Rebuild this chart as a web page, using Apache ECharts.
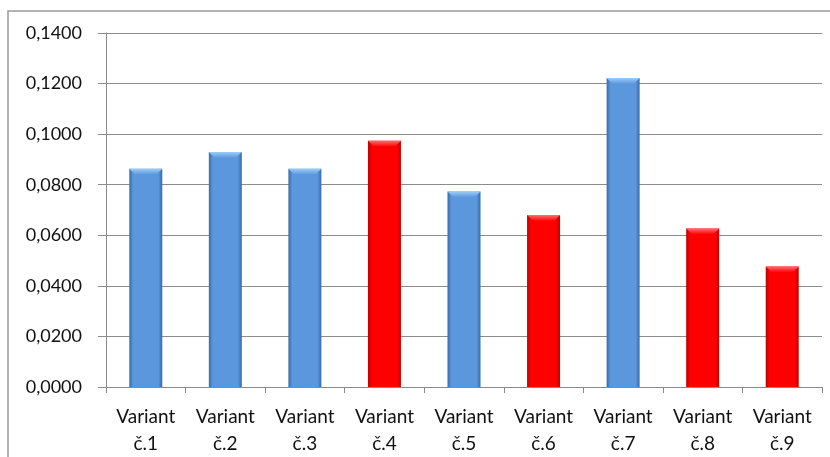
<!DOCTYPE html>
<html>
<head>
<meta charset="utf-8">
<script src="https://cdn.jsdelivr.net/npm/echarts@6/dist/echarts.min.js"></script>
<style>
  html, body { margin: 0; padding: 0; background: #fff; }
  #chart { width: 830px; height: 457px; }
</style>
</head>
<body>
<div id="chart"></div>
<script>
// Variants and their values
const categories = ['Variant\nč.1', 'Variant\nč.2', 'Variant\nč.3', 'Variant\nč.4', 'Variant\nč.5',
                    'Variant\nč.6', 'Variant\nč.7', 'Variant\nč.8', 'Variant\nč.9'];
const values = [0.0863, 0.0929, 0.0863, 0.0974, 0.0773, 0.0680, 0.1222, 0.0627, 0.0477];
// 'b' = blue bar, 'r' = red bar
const kinds = ['b', 'b', 'b', 'r', 'b', 'r', 'b', 'r', 'r'];
const yTicks = { min: 0, max: 0.14, interval: 0.02 };

const palette = {
  b: { edge: '#3a6aa8', mid: '#5b97dd', light: '#9cccf7' },
  r: { edge: '#c00000', mid: '#ff0000', light: '#ff7070' }
};
const BAR_W = 33;
const BEVEL = 6;

function bodyGradient(p) {
  return new echarts.graphic.LinearGradient(0, 0, 1, 0, [
    { offset: 0, color: p.edge },
    { offset: 0.12, color: p.mid },
    { offset: 0.88, color: p.mid },
    { offset: 1, color: p.edge }
  ]);
}

const chart = echarts.init(document.getElementById('chart'));
const font = 'Lato, "Open Sans", sans-serif';

chart.setOption({
  animation: false,
  graphic: [{
    type: 'rect',
    shape: { x: 8, y: 11, width: 900, height: 600 },
    style: { fill: 'none', stroke: '#9a9a9a', lineWidth: 1.5 },
    silent: true
  }],
  grid: { left: 106, right: 8, top: 33, bottom: 70 },
  xAxis: {
    type: 'category',
    data: categories,
    axisLine: { lineStyle: { color: '#8a8a8a', width: 1 } },
    axisTick: { show: true, length: 6, lineStyle: { color: '#8a8a8a' } },
    axisLabel: {
      interval: 0, color: '#111', fontFamily: font, fontSize: 19,
      lineHeight: 27, margin: 16
    }
  },
  yAxis: {
    type: 'value',
    min: yTicks.min, max: yTicks.max, interval: yTicks.interval,
    axisLine: { show: true, lineStyle: { color: '#8a8a8a', width: 1 } },
    axisTick: { show: true, length: 8, inside: false, lineStyle: { color: '#8a8a8a' } },
    splitLine: { lineStyle: { color: '#8c8c8c', width: 1 } },
    axisLabel: {
      color: '#111', fontFamily: font, fontSize: 18, margin: 24,
      formatter: v => v.toFixed(4).replace('.', ',')
    }
  },
  series: [{
    type: 'bar',
    barWidth: BAR_W,
    data: values.map((v, i) => ({
      value: v,
      itemStyle: { color: bodyGradient(palette[kinds[i]]) }
    }))
  }, {
    // light bevel across the top of every bar
    type: 'custom',
    data: values.map((v, i) => [i, v]),
    renderItem: (params, api) => {
      const idx = api.value(0);
      const top = api.coord([idx, api.value(1)]);
      const p = palette[kinds[idx]];
      const x0 = top[0] - BAR_W / 2, x1 = top[0] + BAR_W / 2, y = top[1];
      return {
        type: 'polygon',
        shape: { points: [[x0, y], [x1, y], [x1 - BEVEL, y + BEVEL], [x0 + BEVEL, y + BEVEL]] },
        style: {
          fill: new echarts.graphic.LinearGradient(0, 0, 0, 1, [
            { offset: 0, color: p.light },
            { offset: 1, color: p.mid }
          ])
        }
      };
    },
    z: 3
  }]
});
</script>
</body>
</html>
